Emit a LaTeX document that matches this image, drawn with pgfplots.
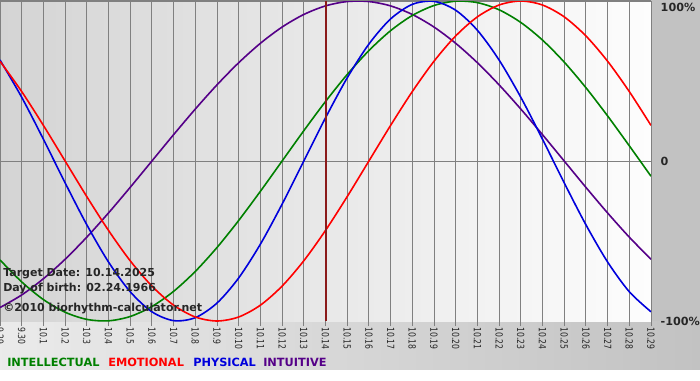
\documentclass[border=0pt]{standalone}
\usepackage{fontspec}
\setmainfont{DejaVu Sans}
\newfontfamily\tickfont[FakeStretch=0.78]{DejaVu Sans}
\usepackage{pgfplots}
\pgfplotsset{compat=1.18}
\usepackage{pgfplotstable}
\definecolor{cInt}{RGB}{0,128,0}
\definecolor{cEmo}{RGB}{255,0,0}
\definecolor{cPhy}{RGB}{0,0,220}
\definecolor{cItu}{RGB}{85,0,136}
\definecolor{cTgt}{RGB}{139,26,26}
\definecolor{cGrid}{RGB}{128,128,128}
\definecolor{cBgL}{RGB}{212,212,212}
\definecolor{cBgR}{RGB}{253,253,253}
\definecolor{cSide}{RGB}{194,194,194}

\pgfplotstableread{
d int emo phy itu
0 -0.6182 0.6235 0.6311 -0.9158
1 -0.7557 0.4339 0.3984 -0.8372
2 -0.8660 0.2225 0.1362 -0.7357
3 -0.9450 0 -0.1362 -0.6142
4 -0.9898 -0.2225 -0.3984 -0.4759
5 -0.9989 -0.4339 -0.6311 -0.3247
6 -0.9718 -0.6235 -0.8170 -0.1646
7 -0.9096 -0.7818 -0.9423 0
8 -0.8146 -0.9010 -0.9977 0.1646
9 -0.6901 -0.9749 -0.9791 0.3247
10 -0.5406 -1 -0.8879 0.4759
11 -0.3717 -0.9749 -0.7308 0.6142
12 -0.1893 -0.9010 -0.5196 0.7357
13 0 -0.7818 -0.2698 0.8372
14 0.1893 -0.6235 0 0.9158
15 0.3717 -0.4339 0.2698 0.9694
16 0.5406 -0.2225 0.5196 0.9966
17 0.6901 0 0.7308 0.9966
18 0.8146 0.2225 0.8879 0.9694
19 0.9096 0.4339 0.9791 0.9158
20 0.9718 0.6235 0.9977 0.8372
21 0.9989 0.7818 0.9423 0.7357
22 0.9898 0.9010 0.8170 0.6142
23 0.9450 0.9749 0.6311 0.4759
24 0.8660 1 0.3984 0.3247
25 0.7557 0.9749 0.1362 0.1646
26 0.6182 0.9010 -0.1362 0
27 0.4582 0.7818 -0.3984 -0.1646
28 0.2817 0.6235 -0.6311 -0.3247
29 0.0951 0.4339 -0.8170 -0.4759
30 -0.0951 0.2225 -0.9423 -0.6142
}\bio

\begin{document}
\begin{tikzpicture}
\begin{scope}[x=0.75pt,y=-0.75pt,shift={(0,240.75pt)}]
 \fill[cSide] (651,0) rectangle (700,321);
 \shade[left color=white!92!black, right color=cSide] (0,321) rectangle (700,370);
 \fill[white] (0,370) rectangle (700,380);
\end{scope}
\begin{axis}[
  at={(0,0)}, anchor=south west,
  scale only axis, width=488.25pt, height=240pt,
  xmin=0, xmax=30, ymin=-1, ymax=1,
  axis line style={draw=none},
  axis background/.style={shade, left color=cBgL, right color=cBgR},
  xtick={0,...,30},
  xticklabels={9.29,9.30,10.1,10.2,10.3,10.4,10.5,10.6,10.7,10.8,10.9,10.10,10.11,10.12,10.13,10.14,10.15,10.16,10.17,10.18,10.19,10.20,10.21,10.22,10.23,10.24,10.25,10.26,10.27,10.28,10.29},
  xtick pos=bottom, tick align=outside, major tick length=3.75pt,
  xtick style={cGrid, line width=0.75pt},
  xmajorgrids, ymajorgrids,
  grid style={cGrid, line width=0.75pt},
  ytick={0,1}, yticklabels={0,{\raisebox{-7.5pt}[0pt][0pt]{100\%}}},
  extra y ticks={-1}, extra y tick labels={-100\%},
  extra y tick style={grid=none},
  ytick pos=right, ytick style={draw=none},
  yticklabel style={font=\bfseries\fontsize{8.4}{10}\selectfont, anchor=west, text=black!85},
  xticklabel style={rotate=-90, anchor=west, inner sep=1pt, font=\tickfont\fontsize{7.4}{8}\selectfont, text=black!85},
]
\addplot[cItu, line width=1.2pt, smooth] table[x=d, y=itu] {\bio};
\addplot[cInt, line width=1.2pt, smooth] table[x=d, y=int] {\bio};
\addplot[cPhy, line width=1.2pt, smooth] table[x=d, y=phy] {\bio};
\addplot[cEmo, line width=1.2pt, smooth] table[x=d, y=emo] {\bio};
\addplot[cTgt, line width=1.5pt] coordinates {(15,-1) (15,1)};
\end{axis}
\begin{scope}[x=0.75pt,y=-0.75pt,shift={(0,240.75pt)}]
 \draw[cGrid, line width=0.75pt] (0,0.5) -- (651,0.5);
 \begin{scope}[every node/.style={anchor=base west, inner sep=0pt, font=\bfseries\fontsize{8.25}{10}\selectfont, text=black!85}]
  \node at (3,276) {Target Date: 10.14.2025};
  \node at (3,291) {Day of birth: 02.24.1966};
  \node at (3,311) {©2010 biorhythm-calculator.net};
 \end{scope}
 \begin{scope}[every node/.style={anchor=base west, inner sep=0pt, font=\bfseries\fontsize{8.5}{10}\selectfont}]
  \node[text=cInt] at (7,366) {INTELLECTUAL};
  \node[text=cEmo] at (108,366) {EMOTIONAL};
  \node[text=cPhy] at (193,366) {PHYSICAL};
  \node[text=cItu] at (263,366) {INTUITIVE};
 \end{scope}
 \pgfresetboundingbox
 \path[use as bounding box] (0,0) rectangle (700,380);
\end{scope}
\end{tikzpicture}
\end{document}
